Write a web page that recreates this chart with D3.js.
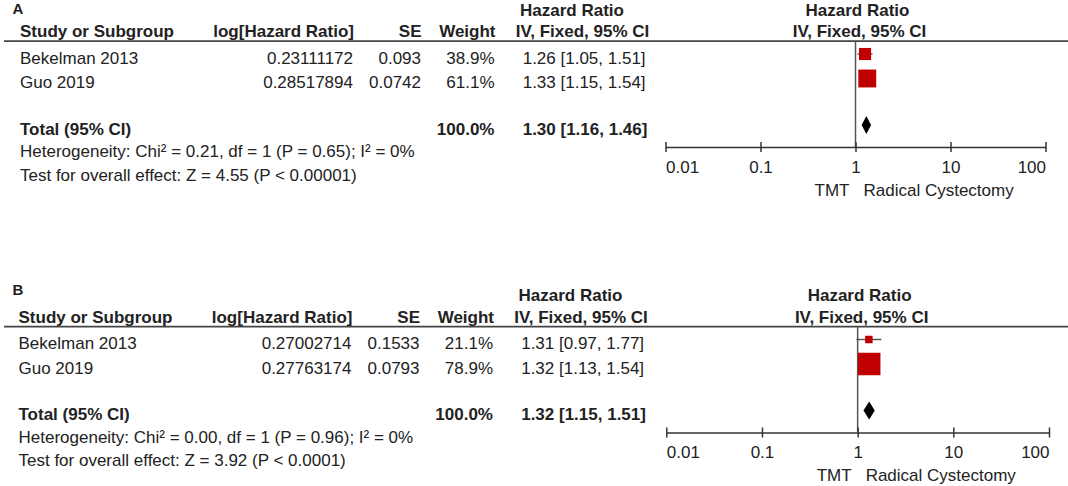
<!DOCTYPE html>
<html>
<head>
<meta charset="utf-8">
<script src="https://cdn.jsdelivr.net/npm/d3@7"></script>
<style>
  body { margin: 0; background: #fff; }
  svg { display: block; }
  text { font-family: "Liberation Sans", Arial, sans-serif; fill: #222; }
</style>
</head>
<body>
<svg id="chart" width="1068" height="486"></svg>
<script>
// data
const studies = ["Bekelman 2013", "Guo 2019"];

const logHrA = [0.23111172, 0.28517894];
const seA = [0.093, 0.0742];
const weightA = [38.9, 61.1];
const hrA = [1.26, 1.33];
const loA = [1.05, 1.15];
const hiA = [1.51, 1.54];
const totalA = [1.30, 1.16, 1.46];
const hetA = "Heterogeneity: Chi² = 0.21, df = 1 (P = 0.65); I² = 0%";
const testA = "Test for overall effect: Z = 4.55 (P < 0.00001)";

const logHrB = [0.27002714, 0.27763174];
const seB = [0.1533, 0.0793];
const weightB = [21.1, 78.9];
const hrB = [1.31, 1.32];
const loB = [0.97, 1.13];
const hiB = [1.77, 1.54];
const totalB = [1.32, 1.15, 1.51];
const hetB = "Heterogeneity: Chi² = 0.00, df = 1 (P = 0.96); I² = 0%";
const testB = "Test for overall effect: Z = 3.92 (P < 0.0001)";

const tickValues = [0.01, 0.1, 1, 10, 100];
const tickLabels = ["0.01", "0.1", "1", "10", "100"];
const favoursLeft = "TMT";
const favoursRight = "Radical Cystectomy";

const svg = d3.select("#chart");
const fs = 17;
const red = "#c00000";
const lineCol = "#444";

function ci(h, l, u) {
  return h.toFixed(2) + " [" + l.toFixed(2) + ", " + u.toFixed(2) + "]";
}

function txt(g, x, y, s, anchor, bold) {
  return g.append("text")
    .attr("x", x).attr("y", y)
    .attr("font-size", fs)
    .attr("font-weight", bold ? "bold" : "normal")
    .attr("text-anchor", anchor || "start")
    .text(s);
}

function drawPanel(p) {
  const g = svg.append("g").attr("transform", "translate(0," + p.dy + ")");
  const dx = p.dx;

  const x = d3.scaleLog().domain([0.01, 100]).range(p.range);
  const size = d3.scaleLinear().domain([0, 100]).range([2, 28]);

  const lineY = 41.2, axisY = 147;
  const rowY = [63.5, 88];
  const totalY = 134.5;

  // panel letter
  g.append("text").attr("x", 12.5).attr("y", p.labelY)
    .attr("font-size", 15).attr("font-weight", "bold").text(p.label);

  // header
  txt(g, 520 + dx, 15.5, "Hazard Ratio", "start", true);
  txt(g, 20 + dx, 37, "Study or Subgroup", "start", true);
  txt(g, 354 + dx, 37, "log[Hazard Ratio]", "end", true);
  txt(g, 421.5 + dx, 37, "SE", "end", true);
  txt(g, 495.5 + dx, 37, "Weight", "end", true);
  txt(g, 515.7 + dx, 37, "IV, Fixed, 95% CI", "start", true);
  txt(g, x(1) + 2, 15.5, "Hazard Ratio", "middle", true);
  txt(g, x(1) + 4, 37, "IV, Fixed, 95% CI", "middle", true);

  g.append("line").attr("x1", 4).attr("x2", 1068)
    .attr("y1", lineY).attr("y2", lineY)
    .attr("stroke", lineCol).attr("stroke-width", 1.8);

  // study rows
  studies.forEach(function (s, i) {
    const y = rowY[i];
    txt(g, 20 + dx, y, s);
    txt(g, 353 + dx, y, String(p.logHr[i]), "end");
    txt(g, 421 + dx, y, String(p.se[i]), "end");
    txt(g, 494.5 + dx, y, p.weight[i].toFixed(1) + "%", "end");
    txt(g, 522.7 + dx, y, ci(p.hr[i], p.lo[i], p.hi[i]));
  });

  txt(g, 20 + dx, totalY, "Total (95% CI)", "start", true);
  txt(g, 494.5 + dx, totalY, d3.sum(p.weight).toFixed(1) + "%", "end", true);
  txt(g, 522.7 + dx, totalY, ci(p.total[0], p.total[1], p.total[2]), "start", true);
  txt(g, 20 + dx, 157, p.het);
  txt(g, 20 + dx, 180.5, p.test);

  // line of no effect
  g.append("line").attr("x1", x(1)).attr("x2", x(1))
    .attr("y1", lineY).attr("y2", axisY)
    .attr("stroke", "#555").attr("stroke-width", 1.5);

  // whiskers and squares
  studies.forEach(function (s, i) {
    const y = rowY[i] - 9.5;
    const w = size(p.weight[i]);
    g.append("line").attr("x1", x(p.lo[i])).attr("x2", x(p.hi[i]))
      .attr("y1", y).attr("y2", y)
      .attr("stroke", "#555").attr("stroke-width", 1.4);
    g.append("rect")
      .attr("x", x(p.hr[i]) - w / 2).attr("y", y - w / 2)
      .attr("width", w).attr("height", w)
      .attr("fill", red);
  });

  // pooled diamond
  const dy = totalY - 9.5;
  g.append("path")
    .attr("d", "M" + x(p.total[1]) + "," + dy +
      "L" + x(p.total[0]) + "," + (dy - 9) +
      "L" + x(p.total[2]) + "," + dy +
      "L" + x(p.total[0]) + "," + (dy + 9) + "Z")
    .attr("fill", "#000");

  // axis
  const ax = g.append("g")
    .attr("transform", "translate(0," + axisY + ")")
    .call(d3.axisBottom(x).tickValues(tickValues)
      .tickFormat(function (d, i) { return tickLabels[i]; })
      .tickSize(5).tickSizeOuter(0));
  ax.attr("font-size", fs).attr("font-family", null);
  ax.select(".domain").attr("stroke", "#333").attr("stroke-width", 1.5);
  ax.selectAll(".tick line").attr("y1", -5).attr("y2", 5)
    .attr("stroke", "#333").attr("stroke-width", 1.5);
  ax.selectAll(".tick text")
    .attr("y", 25.5).attr("dy", null).attr("fill", "#222")
    .attr("text-anchor", function (d, i) {
      return i === 0 ? "start" : (i === tickValues.length - 1 ? "end" : "middle");
    });

  txt(g, x(1) - 6, 195.5, favoursLeft, "end");
  txt(g, x(1) + 8, 195.5, favoursRight, "start");
}

drawPanel({
  label: "A", labelY: 13.5, dy: 0, dx: 0, range: [665.5, 1045.5],
  logHr: logHrA, se: seA, weight: weightA, hr: hrA, lo: loA, hi: hiA,
  total: totalA, het: hetA, test: testA
});
drawPanel({
  label: "B", labelY: 9.5, dy: 285.5, dx: -1.5, range: [666.3, 1049],
  logHr: logHrB, se: seB, weight: weightB, hr: hrB, lo: loB, hi: hiB,
  total: totalB, het: hetB, test: testB
});
</script>
</body>
</html>
